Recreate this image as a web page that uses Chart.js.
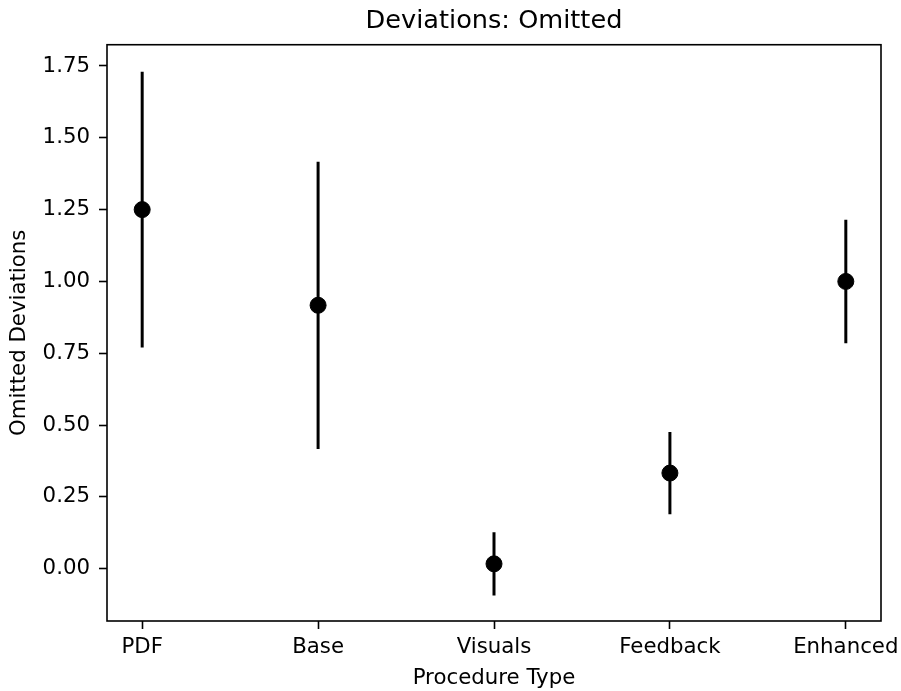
<!DOCTYPE html>
<html>
<head>
<meta charset="utf-8">
<title>Deviations: Omitted</title>
<script src="https://cdn.jsdelivr.net/npm/chart.js@4/dist/chart.umd.min.js"></script>
<style>
    html, body { margin: 0; padding: 0; background: #fff; }
    #wrap { width: 901px; height: 691px; }
</style>
</head>
<body>
<div id="wrap"><canvas id="devChart" width="901" height="691"></canvas></div>
<script>
// データ
const categories = ['PDF', 'Base', 'Visuals', 'Feedback', 'Enhanced'];
const means = [1.25, 0.917, 0.017, 0.333, 1.0];
const errors = [0.48, 0.5, 0.11, 0.143, 0.215];
const yTicks = [0, 0.25, 0.5, 0.75, 1.0, 1.25, 1.5, 1.75];
const yMin = -0.182;
const yMax = 1.824;

const FONT = 'DejaVu Sans';

// 点のデータ
const pointData = means.map((m, i) => ({ x: i, y: m }));

// エラーバー (null で線を区切る)
const errorData = [];
means.forEach((m, i) => {
    errorData.push({ x: i, y: m - errors[i] });
    errorData.push({ x: i, y: m + errors[i] });
    errorData.push({ x: i, y: null });
});

// 枠線
const framePlugin = {
    id: 'frame',
    afterDraw(chart) {
        const { ctx, chartArea } = chart;
        ctx.save();
        ctx.strokeStyle = '#000';
        ctx.lineWidth = 1.6;
        ctx.strokeRect(chartArea.left, chartArea.top,
            chartArea.right - chartArea.left, chartArea.bottom - chartArea.top);
        ctx.restore();
    }
};

const ctx = document.getElementById('devChart').getContext('2d');
new Chart(ctx, {
    type: 'scatter',
    data: {
        datasets: [
            {
                label: 'mean',
                data: pointData,
                backgroundColor: '#000',
                borderColor: '#000',
                pointRadius: 8,
                pointHoverRadius: 8,
                showLine: false
            },
            {
                label: 'error',
                data: errorData,
                borderColor: '#000',
                borderWidth: 3,
                pointRadius: 0,
                pointHoverRadius: 0,
                showLine: true,
                spanGaps: false
            }
        ]
    },
    options: {
        responsive: false,
        animation: false,
        devicePixelRatio: 1,
        layout: { padding: { left: 0, right: 20, top: 0, bottom: 0 } },
        plugins: {
            legend: { display: false },
            tooltip: { enabled: false },
            title: {
                display: true,
                fullSize: false,
                text: 'Deviations: Omitted',
                color: '#000',
                font: { family: FONT, size: 25.6, weight: 'normal' },
                padding: { top: 6, bottom: 8 }
            }
        },
        scales: {
            x: {
                type: 'linear',
                min: -0.2,
                max: 4.2,
                afterBuildTicks: (scale) => {
                    scale.ticks = categories.map((c, i) => ({ value: i }));
                },
                afterFit: (scale) => {
                    scale.height = 70;
                    scale.paddingLeft = 0;
                    scale.paddingRight = 0;
                },
                ticks: {
                    color: '#000',
                    font: { family: FONT, size: 21.3 },
                    padding: 6,
                    maxRotation: 0,
                    autoSkip: false,
                    callback: (v) => categories[v]
                },
                grid: {
                    display: true,
                    drawOnChartArea: false,
                    drawTicks: true,
                    tickLength: 8,
                    tickColor: '#000',
                    tickWidth: 1.6
                },
                border: { display: false },
                title: {
                    display: true,
                    text: 'Procedure Type',
                    color: '#000',
                    font: { family: FONT, size: 21.3 },
                    padding: { top: 0, bottom: 0 }
                }
            },
            y: {
                type: 'linear',
                min: yMin,
                max: yMax,
                afterBuildTicks: (scale) => {
                    scale.ticks = yTicks.map(v => ({ value: v }));
                },
                afterFit: (scale) => {
                    scale.width = 107;
                    scale.paddingTop = 0;
                    scale.paddingBottom = 0;
                },
                ticks: {
                    color: '#000',
                    font: { family: FONT, size: 21.3 },
                    padding: 9,
                    callback: (v) => Number(v).toFixed(2)
                },
                grid: {
                    display: true,
                    drawOnChartArea: false,
                    drawTicks: true,
                    tickLength: 8,
                    tickColor: '#000',
                    tickWidth: 1.6
                },
                border: { display: false },
                title: {
                    display: true,
                    text: 'Omitted Deviations',
                    color: '#000',
                    font: { family: FONT, size: 21.3 },
                    padding: { top: 7, bottom: 0 }
                }
            }
        }
    },
    plugins: [framePlugin]
});
</script>
</body>
</html>
